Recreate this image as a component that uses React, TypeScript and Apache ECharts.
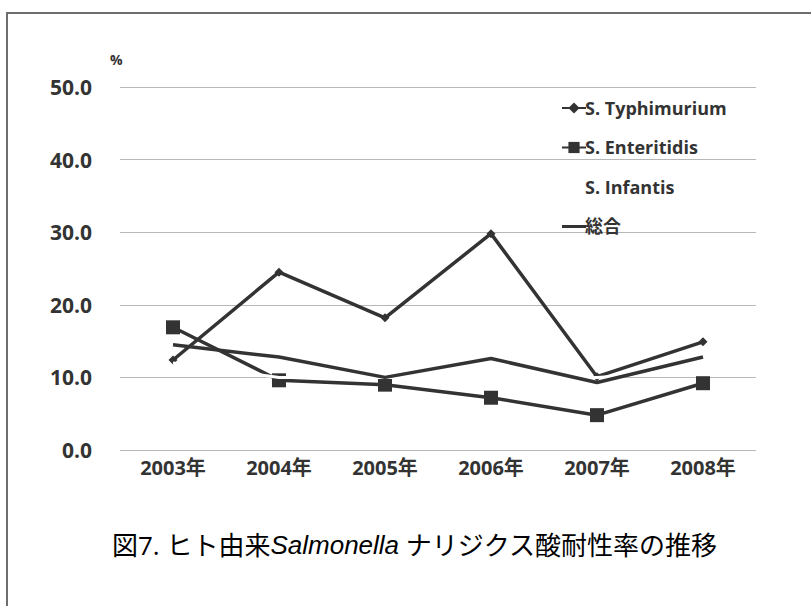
import React, { useEffect, useRef } from "react";
import * as echarts from "echarts";

// Years on the category axis
const years = ["2003年", "2004年", "2005年", "2006年", "2007年", "2008年"];

// Resistance rates (%) per serovar
const typhimurium = [12.4, 24.5, 18.2, 29.8, 10.1, 14.9];
const enteritidis = [16.9, 9.6, 9.0, 7.2, 4.8, 9.2];
const infantis = [12.0, 10.0, 10.0, 10.0, 10.0, 11.0];
const overall = [14.5, 12.8, 10.0, 12.6, 9.3, 12.8];

const seriesNames = ["S. Typhimurium", "S. Enteritidis", "S. Infantis", "総合"];

const caption = "図7. ヒト由来";
const captionItalic = "Salmonella";
const captionTail = " ナリジクス酸耐性率の推移";

const FONT = "'Open Sans', 'Noto Sans CJK JP', sans-serif";
const INK = "#333333";

export default function App() {
  const ref = useRef<HTMLDivElement>(null);

  useEffect(() => {
    if (!ref.current) return;
    const chart = echarts.init(ref.current, null, { renderer: "svg" });

    const lineStyle = { color: INK, width: 3.5 };

    chart.setOption({
      animation: false,
      backgroundColor: "#ffffff",
      textStyle: { fontFamily: FONT },
      grid: { left: 120, right: 55, top: 87, bottom: 156, containLabel: false },
      legend: {
        orient: "vertical",
        left: 556,
        top: 94,
        itemWidth: 24,
        itemHeight: 14,
        itemGap: 21.5,
        data: [
          { name: seriesNames[0] },
          { name: seriesNames[1] },
          { name: seriesNames[2], icon: "rect", itemStyle: { opacity: 0 } },
          { name: seriesNames[3], icon: "path://M0,6H24V9H0Z" },
        ],
        textStyle: {
          fontFamily: FONT,
          fontSize: 18,
          fontWeight: "bold",
          color: INK,
          padding: [0, 0, 0, -6],
        },
      },
      xAxis: {
        type: "category",
        data: years,
        boundaryGap: true,
        axisLine: { show: false },
        axisTick: { show: false },
        axisLabel: {
          fontFamily: FONT,
          fontSize: 20,
          fontWeight: "bold",
          color: INK,
          margin: 7,
        },
      },
      yAxis: {
        type: "value",
        min: 0,
        max: 50,
        interval: 10,
        axisLine: { show: false },
        axisTick: { show: false },
        splitLine: { lineStyle: { color: "#b8b8b8", width: 1 } },
        axisLabel: {
          fontFamily: FONT,
          fontSize: 21,
          fontWeight: "bold",
          color: INK,
          margin: 28,
          formatter: (v: number) => v.toFixed(1),
        },
      },
      series: [
        {
          name: seriesNames[0],
          type: "line",
          data: typhimurium,
          symbol: "diamond",
          symbolSize: 9,
          itemStyle: { color: INK },
          lineStyle,
          z: 3,
        },
        {
          name: seriesNames[1],
          type: "line",
          data: enteritidis,
          symbol: "rect",
          symbolSize: 14,
          itemStyle: { color: INK },
          lineStyle,
          z: 4,
        },
        {
          name: seriesNames[2],
          type: "line",
          data: infantis,
          symbol: "none",
          itemStyle: { color: "#ffffff" },
          lineStyle: { color: "#ffffff", width: 3 },
          z: 5,
        },
        {
          name: seriesNames[3],
          type: "line",
          data: overall,
          symbol: "none",
          itemStyle: { color: INK },
          lineStyle,
          z: 6,
        },
      ],
      graphic: [
        {
          type: "rect",
          shape: { x: 7, y: 13, width: 900, height: 700 },
          style: { fill: "none", stroke: "#6e6e6e", lineWidth: 2 },
          silent: true,
        },
        {
          type: "text",
          left: 110,
          top: 52,
          style: {
            text: "%",
            font: `bold 14px ${FONT}`,
            fill: INK,
          },
        },
        {
          type: "text",
          left: 112,
          top: 532,
          style: {
            text: `{a|${caption}}{i|${captionItalic}}{a|${captionTail}}`,
            rich: {
              a: { fontFamily: FONT, fontSize: 26, color: "#505050" },
              i: {
                fontFamily: "'Liberation Sans', Arial, sans-serif",
                fontSize: 26,
                fontStyle: "italic",
                color: "#505050",
              },
            },
          },
        },
      ],
    });

    return () => chart.dispose();
  }, []);

  return (
    <div
      ref={ref}
      style={{ position: "fixed", left: 0, top: 0, width: 811, height: 606 }}
    />
  );
}
